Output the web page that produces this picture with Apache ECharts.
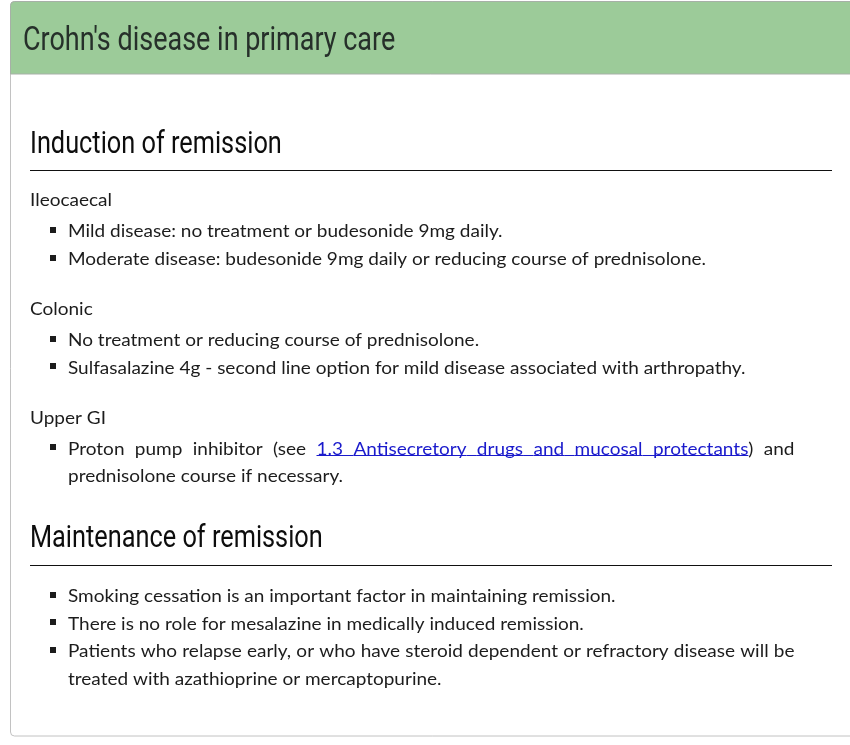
<!DOCTYPE html>
<html>
<head>
<meta charset="utf-8">
<script src="https://cdn.jsdelivr.net/npm/echarts@6/dist/echarts.min.js"></script>
<style>
  html, body { margin: 0; padding: 0; background: #fff; }
  #main { width: 850px; height: 745px; }
</style>
</head>
<body>
<div id="main"></div>
<script>
// page content
var pageTitle = "Crohn's disease in primary care";
var sectionTitles = ['Induction of remission', 'Maintenance of remission'];
var groupLabels = ['Ileocaecal', 'Colonic', 'Upper GI'];
var ileocaecalItems = [
  'Mild disease: no treatment or budesonide 9mg daily.',
  'Moderate disease: budesonide 9mg daily or reducing course of prednisolone.'
];
var colonicItems = [
  'No treatment or reducing course of prednisolone.',
  'Sulfasalazine 4g - second line option for mild disease associated with arthropathy.'
];
var upperGiItems = [
  ['Proton pump inhibitor (see ', { link: '1.3 Antisecretory drugs and mucosal protectants' }, ') and prednisolone course if necessary.']
];
var maintenanceItems = [
  'Smoking cessation is an important factor in maintaining remission.',
  'There is no role for mesalazine in medically induced remission.',
  'Patients who relapse early, or who have steroid dependent or refractory disease will be treated with azathioprine or mercaptopurine.'
];

var BODY_FONT = '18px Lato';
var HEAD_FONT = '30.5px Roboto';
var TITLE_FONT = '32.5px Roboto';
var HEAD_SCALE = 0.83;   // Roboto squeezed to look like a condensed face
var TEXT_COLOR = '#1c1c1c';
var LINK_COLOR = '#1a1acc';
var LINE_H = 27.7;
var CONTENT_W = 726.5;
var BODY_DY = 1.5;       // nudge body text down to sit like the original
var HEAD_DY = 2.5;

var ctx = document.createElement('canvas').getContext('2d');
function textWidth(s, font) {
  ctx.font = font;
  return ctx.measureText(s).width;
}
// keep body lines about as wide as the original face
var bodyScale = 638 / textWidth(ileocaecalItems[1], BODY_FONT);
if (bodyScale > 1.08) bodyScale = 1.08;
if (bodyScale < 0.9) bodyScale = 0.9;

var els = [];

function addText(str, x, y, font, color, scale) {
  els.push({
    type: 'text', x: x, y: y, scaleX: scale || 1,
    style: { text: str, font: font, fill: color, verticalAlign: 'middle' }
  });
}

// split runs into words, a word is a list of pieces (text + link flag)
function toWords(runs) {
  var words = [], cur = null;
  runs.forEach(function (r) {
    var isLink = typeof r !== 'string';
    var parts = (isLink ? r.link : r).split(' ');
    parts.forEach(function (p, i) {
      if (i > 0) { if (cur) words.push(cur); cur = null; }
      if (p === '') return;
      if (!cur) cur = [];
      cur.push({ text: p, link: isLink });
    });
  });
  if (cur) words.push(cur);
  words.forEach(function (w) {
    w.width = 0;
    w.forEach(function (pc) {
      pc.width = textWidth(pc.text, BODY_FONT) * bodyScale;
      w.width += pc.width;
    });
  });
  return words;
}

function drawItem(item, x0, y) {
  var runs = typeof item === 'string' ? [item] : item;
  var words = toWords(runs);
  var sp = textWidth(' ', BODY_FONT) * bodyScale;
  var lines = [], line = [], w = 0;
  words.forEach(function (wd) {
    if (line.length && w + sp + wd.width > CONTENT_W) {
      lines.push(line); line = []; w = 0;
    }
    w += (line.length ? sp : 0) + wd.width;
    line.push(wd);
  });
  if (line.length) lines.push(line);

  els.push({ type: 'rect', shape: { x: 50, y: Math.round(y - 3), width: 6, height: 6 }, style: { fill: TEXT_COLOR } });

  lines.forEach(function (ln, li) {
    var sum = 0;
    ln.forEach(function (wd) { sum += wd.width; });
    var gap = (li < lines.length - 1 && ln.length > 1) ? (CONTENT_W - sum) / (ln.length - 1) : sp;
    var x = x0;
    var uy = Math.round(y + BODY_DY + 6) + 0.5;
    ln.forEach(function (wd, wi) {
      wd.forEach(function (pc) {
        addText(pc.text, x, y + BODY_DY, BODY_FONT, pc.link ? LINK_COLOR : TEXT_COLOR, bodyScale);
        if (pc.link) {
          els.push({ type: 'line', shape: { x1: x, y1: uy, x2: x + pc.width, y2: uy }, style: { stroke: LINK_COLOR, lineWidth: 1 } });
        }
        x += pc.width;
      });
      var next = ln[wi + 1];
      if (next && wd[wd.length - 1].link && next[0].link) {
        els.push({ type: 'line', shape: { x1: x, y1: uy, x2: x + gap, y2: uy }, style: { stroke: LINK_COLOR, lineWidth: 1 } });
      }
      x += gap;
    });
    y += LINE_H;
  });
  return y - LINE_H;
}

function drawHeading(str, y) {
  addText(str, 30, y + HEAD_DY, HEAD_FONT, '#0d0d0d', HEAD_SCALE);
  var ry = Math.round(y + 27.5) + 0.5;
  els.push({ type: 'line', shape: { x1: 30, y1: ry, x2: 832, y2: ry }, style: { stroke: '#111', lineWidth: 1 } });
  return y + 27;
}

// panel and green header
els.push({ type: 'rect', shape: { x: 10.5, y: 1.5, width: 860, height: 734.5, r: [4, 0, 0, 4] }, style: { fill: '#fff', stroke: '#c2c2c2', lineWidth: 1 } });
els.push({ type: 'rect', shape: { x: 10.5, y: 1.5, width: 860, height: 72.5, r: [4, 0, 0, 0] }, style: { fill: '#9ccb99', stroke: '#a7b0a7', lineWidth: 1 } });
addText(pageTitle, 23, 42, TITLE_FONT, '#26302a', HEAD_SCALE);

// induction of remission
var y = drawHeading(sectionTitles[0], 142.5);
var groups = [ileocaecalItems, colonicItems, upperGiItems];
y += 29.5;
groups.forEach(function (items, gi) {
  addText(groupLabels[gi], 30, y + BODY_DY, BODY_FONT, TEXT_COLOR, bodyScale);
  y += 31;
  items.forEach(function (it, ii) {
    y = drawItem(it, 68, y);
    if (ii < items.length - 1) y += LINE_H;
  });
  if (gi < groups.length - 1) y += 50;
});

// maintenance of remission
y = drawHeading(sectionTitles[1], y + 62);
y += 30.5;
maintenanceItems.forEach(function (it) {
  y = drawItem(it, 68, y) + LINE_H;
});

var chart = echarts.init(document.getElementById('main'));
chart.setOption({
  animation: false,
  graphic: { elements: els }
});
</script>
</body>
</html>
